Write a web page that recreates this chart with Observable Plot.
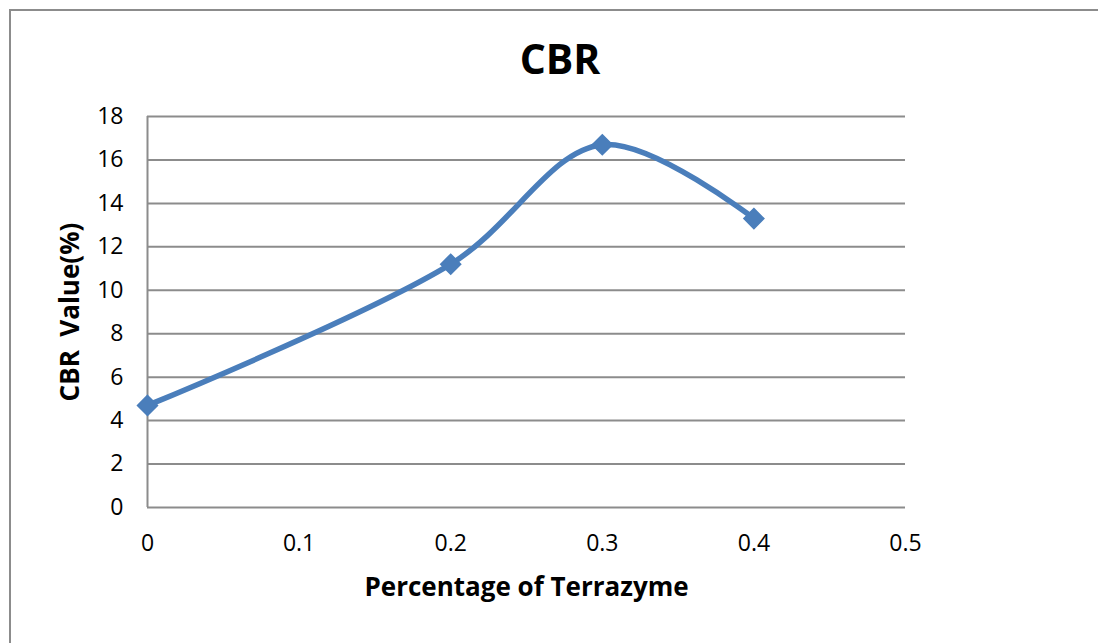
<!DOCTYPE html>
<html><head><meta charset="utf-8">
<script src="https://cdn.jsdelivr.net/npm/d3@7"></script>
<script src="https://cdn.jsdelivr.net/npm/@observablehq/plot@0.6"></script>
<style>
html,body{margin:0;padding:0;background:#fff;}
#wrap{position:relative;width:1098px;height:643px;overflow:hidden;font-family:"Open Sans",sans-serif;}
#border{position:absolute;left:9px;top:9px;width:1200px;height:800px;border:2px solid #8c8c8c;box-sizing:border-box;}
#title{position:absolute;left:22px;width:1076px;top:38px;text-align:center;font-weight:bold;font-size:41px;line-height:1;color:#000;}
#chart{position:absolute;left:0;top:0;}
</style></head>
<body><div id="wrap"><div id="border"></div><div id="chart"></div><div id="title">CBR</div></div>
<script>
const terrazyme = [0, 0.2, 0.3, 0.4];
const cbrValues = [4.7, 11.2, 16.7, 13.3];
const xTicks = [0, 0.1, 0.2, 0.3, 0.4, 0.5];
const yTicks = [0, 2, 4, 6, 8, 10, 12, 14, 16, 18];
const data = terrazyme.map((x, i) => ({x, y: cbrValues[i]}));
const color = "#4a7ebb";
const chart = Plot.plot({
  width: 1098, height: 643,
  marginLeft: 147, marginRight: 193, marginTop: 116, marginBottom: 136,
  style: {fontFamily: "Open Sans, sans-serif", fontSize: "23px", color: "#000", background: "transparent"},
  x: {domain: [0, 0.5]},
  y: {domain: [0, 18]},
  marks: [
    Plot.gridY(yTicks, {stroke: "#8c8c8c", strokeOpacity: 1, strokeWidth: 2}),
    Plot.ruleX([0], {stroke: "#8c8c8c", strokeWidth: 2}),
    Plot.axisY({ticks: yTicks, tickSize: 0, tickPadding: 24, fontSize: 23, label: "CBR  Value(%)", labelAnchor: "center", labelArrow: "none", labelOffset: 87, tickFormat: d => String(d)}),
    Plot.axisX({ticks: xTicks, tickSize: 0, tickPadding: 27, fontSize: 23, label: "Percentage of Terrazyme", labelAnchor: "center", labelArrow: "none", labelOffset: 88, tickFormat: d => String(d)}),
    Plot.line(data, {x: "x", y: "y", curve: "catmull-rom", stroke: color, strokeWidth: 5.5}),
    Plot.dot(data, {x: "x", y: "y", symbol: "diamond2", r: 9, fill: color, stroke: color})
  ]
});
d3.select(chart).selectAll("[aria-label='y-axis tick label'] text, [aria-label='x-axis tick label'] text").style("font-size", "23px");
d3.select(chart).selectAll("[aria-label='y-axis label'] text, [aria-label='x-axis label'] text").style("font-weight", "bold").style("font-size", "26px");
document.getElementById("chart").appendChild(chart);
</script>
</body></html>
